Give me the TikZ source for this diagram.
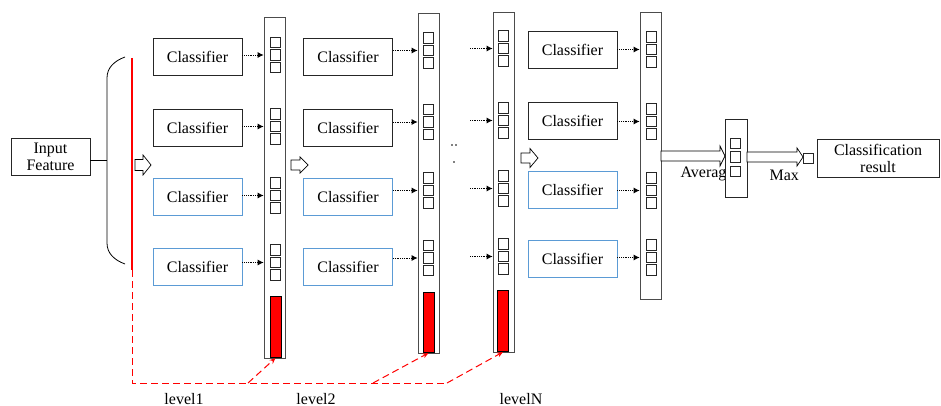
\documentclass[tikz,border=0pt]{standalone}
\usepackage{fontspec}
\setmainfont{Liberation Serif}
\usetikzlibrary{arrows.meta,calc}
\definecolor{boxblue}{RGB}{91,155,213}
\definecolor{barred}{RGB}{255,0,0}

\begin{document}
\begin{tikzpicture}[x=1pt,y=-1pt,
  every node/.style={font=\fontsize{16}{17}\selectfont},
  clf/.style={draw=black!85, line width=0.8pt, minimum width=89pt, minimum height=37pt, inner sep=0pt},
  clfblue/.style={clf, draw=boxblue},
  plainbox/.style={draw=black!85, line width=0.8pt, inner sep=0pt, align=center, fill=white},
  bar/.style={draw=black!70, line width=0.8pt, minimum width=21pt, inner sep=0pt, anchor=north, fill=white},
  cell/.style={draw=black!85, line width=0.6pt, minimum width=10pt, minimum height=10.5pt, inner sep=0pt},
  redbar/.style={draw=black, fill=barred, line width=0.6pt, minimum width=11pt, inner sep=0pt, anchor=south},
  feed/.style={densely dotted, line width=0.8pt, -{Latex[length=6pt,width=6pt]}},
  reddash/.style={draw=barred, line width=1pt, dash pattern=on 7pt off 4pt},
  pics/harrow/.style n args={4}{code={
    \draw[line width=0.7pt, fill=white] (0,-#2) -- (#1-#4,-#2) -- (#1-#4,-#3) -- (#1,0)
      -- (#1-#4,#3) -- (#1-#4,#2) -- (0,#2) -- cycle;}},
]
\useasboundingbox (0,0) rectangle (941,406);

% input and the brace that splits it
\node[plainbox, minimum width=79pt, minimum height=37pt] (inp) at (50.5,157) {Input\\Feature};
\coordinate (bmid) at (107,160);
\draw[line width=0.8pt] (inp.east |- bmid) -- (bmid);
\draw[line width=0.8pt] (125,57) .. controls (114,61) and (107,68) .. (107,78)
  -- (107,243) .. controls (107,253) and (114,260) .. (125,264);

% red feature line and the dashed feeds to each level
\coordinate (rtop) at (132,58);
\coordinate (rmid) at (132,270);
\coordinate (rcorner) at (132,383);
\coordinate (k1) at (248,383);
\coordinate (k2) at (373,383);
\coordinate (k3) at (447,383);

% vertical output bars
\node[bar, minimum height=341pt] (bar-1) at (274.5,17) {};
\node[bar, minimum height=340pt] (bar-2) at (428.5,13) {};
\node[bar, minimum height=340pt] (bar-3) at (503.5,12) {};
\node[bar, minimum height=287pt] (bar-4) at (650.5,12) {};

\foreach \b/\x/\ys in {1/275/{55,126.5,195.5,262.5}, 2/428.5/{50.5,122,190.5,258},
                       3/503/{48.5,120.5,188.5,256.5}, 4/651/{49.5,121.5,190.5,257.5}} {
  \foreach \y [count=\g] in \ys {
    \node[cell] (q-\b-\g-1) at (\x,\y-12.5) {};
    \node[cell] (q-\b-\g-2) at (\x,\y) {};
    \node[cell] (q-\b-\g-3) at (\x,\y+12.5) {};
  }
}

\node[redbar, minimum height=61pt] (red-1) at (275.5,358) {};
\node[redbar, minimum height=60pt] (red-2) at (428.5,353) {};
\node[redbar, minimum height=61pt] (red-3) at (503,352) {};

% classifiers
\foreach \c/\x in {1/197.5, 2/348} {
  \node[clf] (c-\c-1) at (\x,56.5) {Classifier};
  \node[clf] (c-\c-2) at (\x,128) {Classifier};
  \node[clfblue] (c-\c-3) at (\x,196.5) {Classifier};
  \node[clfblue] (c-\c-4) at (\x,266.5) {Classifier};
}
\node[clf] (c-4-1) at (572.5,50) {Classifier};
\node[clf] (c-4-2) at (572.5,120.5) {Classifier};
\node[clfblue] (c-4-3) at (572.5,190) {Classifier};
\node[clfblue] (c-4-4) at (572.5,259) {Classifier};

% classifier outputs into the bars
\foreach \r in {1,...,4} {
  \draw[feed] (c-1-\r.east |- q-1-\r-2) -- (q-1-\r-2 -| bar-1.west);
  \draw[feed] (c-2-\r.east |- q-2-\r-2) -- (q-2-\r-2 -| bar-2.west);
  \coordinate (f-\r) at ($(q-3-\r-2)+(-33,0)$);
  \draw[feed] (f-\r) -- (q-3-\r-2 -| bar-3.west);
  \draw[feed] (c-4-\r.east |- q-4-\r-2) -- (q-4-\r-2 -| bar-4.west);
}

\draw[barred, line width=1.8pt] (rtop) -- (rmid);
\draw[reddash] (rmid) -- (rcorner) -- (k3);
\draw[reddash, -{Stealth[length=6pt,width=5pt]}] (k1) -- (red-1.south);
\draw[reddash, -{Stealth[length=6pt,width=5pt]}] (k2) -- (red-2.south);
\draw[reddash, -{Stealth[length=6pt,width=5pt]}] (k3) -- (red-3.south);

% hollow arrows between levels
\pic at (135,165) {harrow={16}{5.5}{10}{8}};
\pic at (291,165) {harrow={17}{5}{8}{8}};
\pic at (521,158) {harrow={17}{5}{9.5}{8}};

% ellipsis between level 2 and level N
\fill (452,145) circle (0.8);
\fill (456,145) circle (0.8);
\fill (454,162) circle (0.8);

% averaging and max
\node[anchor=base west] (avglbl) at (677,178) {Average};
\pic at (661,156) {harrow={64}{5}{10}{5}};
\node[plainbox, minimum width=22pt, minimum height=78pt] (avg) at (736,158) {};
\node[cell] (a-1) at (735.5,143.5) {};
\node[cell] (a-2) at (735.5,157) {};
\node[cell] (a-3) at (735.5,171.5) {};
\pic at (747,157) {harrow={56}{5}{9}{6}};
\node[anchor=base west] (maxlbl) at (766,180) {Max};
\node[cell, minimum height=10pt] (maxq) at (808,158) {};
\node[plainbox, minimum width=122pt, minimum height=38pt] (res) at (878,158) {Classification\\result};

% level labels
\node[anchor=base] (l1) at (184,404) {level1};
\node[anchor=base] (l2) at (316,404) {level2};
\node[anchor=base] (lN) at (521,404) {levelN};
\end{tikzpicture}
\end{document}
